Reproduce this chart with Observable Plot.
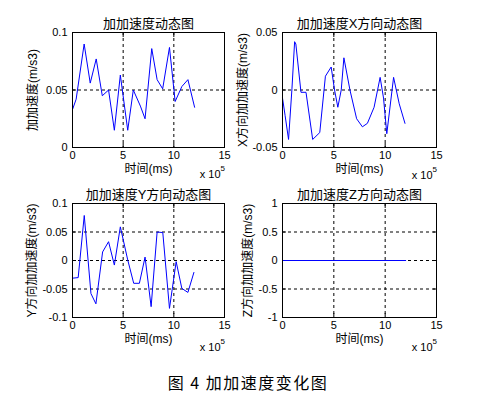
<!DOCTYPE html>
<html><head><meta charset="utf-8">
<script src="https://cdn.jsdelivr.net/npm/d3@7"></script>
<script src="https://cdn.jsdelivr.net/npm/@observablehq/plot@0.6"></script>
<style>
body{margin:0;background:#fff;}
#fig{position:relative;width:496px;height:398px;background:#fff;overflow:hidden;}
#fig svg{position:absolute;}
#cap{position:absolute;left:0;width:496px;top:370px;text-align:center;font-family:"Noto Sans CJK SC";font-size:16px;line-height:24px;letter-spacing:1.5px;color:#000;}
</style></head><body><div id="fig"><div id="cap">图 4 加加速度变化图</div></div>
<script>
// time axis in units of 1e5 ms
const xTicks = [0, 5, 10, 15];

const tJerk = [0, 0.36, 1.15, 1.75, 2.34, 2.94, 3.56, 4.13, 4.72, 5.45, 6.0, 6.7, 7.16, 7.82, 8.35, 8.9, 9.57, 10.13, 10.79, 11.39, 12.05];
const vJerk = [0.033, 0.042, 0.090, 0.056, 0.077, 0.045, 0.050, 0.015, 0.063, 0.015, 0.050, 0.036, 0.025, 0.086, 0.059, 0.051, 0.087, 0.040, 0.053, 0.059, 0.035];

const tX = [0, 0.25, 0.59, 0.92, 1.18, 1.3, 1.8, 2.29, 2.94, 3.63, 4.18, 4.74, 5.07, 5.39, 5.72, 5.98, 6.57, 7.22, 7.78, 8.27, 8.92, 9.51, 9.84, 10.16, 10.82, 11.37, 11.93];
const vX = [-0.007, -0.022, -0.043, 0.001, 0.042, 0.040, -0.002, -0.002, -0.043, -0.037, 0.012, 0.020, 0.000, -0.015, 0.000, 0.028, 0.000, -0.025, -0.032, -0.029, -0.015, 0.011, -0.007, -0.038, 0.011, -0.012, -0.029];

const tY = [0, 0.56, 1.16, 1.82, 2.31, 2.97, 3.56, 4.13, 4.72, 5.45, 6.04, 6.6, 7.16, 7.76, 8.35, 8.91, 9.57, 10.23, 10.79, 11.39, 11.98];
const vY = [-0.031, -0.030, 0.079, -0.058, -0.076, 0.015, 0.033, -0.008, 0.059, 0.001, -0.040, -0.040, 0.006, -0.081, 0.050, 0.049, -0.084, -0.002, -0.049, -0.056, -0.021];

const tZ = [0, 12];
const vZ = [0, 0];

const titles = ["加加速度动态图", "加加速度X方向动态图", "加加速度Y方向动态图", "加加速度Z方向动态图"];
const yLabels = ["加加速度(m/s3)", "X方向加加速度(m/s3)", "Y方向加加速度(m/s3)", "Z方向加加速度(m/s3)"];
const xLabel = "时间(ms)";
const yTicksJ = [0, 0.05, 0.1];
const yTicksX = [-0.05, 0, 0.05];
const yTicksY = [-0.1, -0.05, 0, 0.05, 0.1];
const yTicksZ = [-1, -0.5, 0, 0.5, 1];

const fmt = d => String(d);
const cjk = "'Liberation Sans','Noto Sans CJK SC',sans-serif";

function panel(o) {
  const data = o.t.map((t, i) => ({t, v: o.v[i]}));
  const yd = [o.yTicks[0], o.yTicks[o.yTicks.length - 1]];
  const svg = Plot.plot({
    width: o.w, height: o.h,
    marginLeft: o.ml, marginRight: o.mr, marginTop: o.mt, marginBottom: o.mb,
    style: {fontFamily: "'Liberation Sans',Arial,sans-serif", fontSize: "11px", background: "transparent", color: "black", overflow: "visible"},
    x: {domain: [0, 15]},
    y: {domain: yd},
    marks: [
      Plot.gridX(xTicks, {stroke: "black", strokeOpacity: 1, strokeDasharray: "3,3"}),
      Plot.gridY(o.yTicks, {stroke: "black", strokeOpacity: 1, strokeDasharray: "3,3"}),
      Plot.axisX(xTicks, {anchor: "bottom", tickSize: -4, tickPadding: 8, tickFormat: fmt, label: null}),
      Plot.axisX(xTicks, {anchor: "top", tickSize: -4, tickFormat: () => "", label: null}),
      Plot.axisY(o.yTicks, {anchor: "left", tickSize: -4, tickPadding: 9, tickFormat: fmt, label: null}),
      Plot.axisY(o.yTicks, {anchor: "right", tickSize: -4, tickFormat: () => "", label: null}),
      Plot.line(data, {x: "t", y: "v", stroke: "#0000ff", strokeWidth: 1}),
      Plot.frame({stroke: "black"}),
      Plot.text([o.title], {frameAnchor: "top", dy: -14, textAnchor: "middle", fontSize: 13, fontFamily: cjk}),
      Plot.text([xLabel], {frameAnchor: "bottom", dy: 25, textAnchor: "middle", fontSize: 12, fontFamily: cjk}),
      Plot.text([o.ylabel], {frameAnchor: "left", dx: o.ydx, rotate: -90, textAnchor: "middle", fontSize: 12, fontFamily: cjk}),
      Plot.text(["x 10"], {frameAnchor: "bottom-right", dx: -4, dy: o.edy, textAnchor: "end", fontSize: 11}),
      Plot.text(["5"], {frameAnchor: "bottom-right", dx: -4, dy: o.edy - 7, textAnchor: "start", fontSize: 8})
    ]
  });
  svg.style.left = o.left + "px";
  svg.style.top = o.top + "px";
  document.getElementById("fig").appendChild(svg);
}

panel({t: tJerk, v: vJerk, yTicks: yTicksJ, title: titles[0], ylabel: yLabels[0], left: 0, top: 0, w: 248, h: 185, ml: 72, mr: 24, mt: 32, mb: 38, ydx: -39, edy: 30});
panel({t: tX, v: vX, yTicks: yTicksX, title: titles[1], ylabel: yLabels[1], left: 220, top: 0, w: 276, h: 185, ml: 62, mr: 60, mt: 32, mb: 38, ydx: -39, edy: 31});
panel({t: tY, v: vY, yTicks: yTicksY, title: titles[2], ylabel: yLabels[2], left: 0, top: 185, w: 248, h: 170, ml: 72, mr: 24, mt: 18, mb: 38, ydx: -40, edy: 33});
panel({t: tZ, v: vZ, yTicks: yTicksZ, title: titles[3], ylabel: yLabels[3], left: 220, top: 185, w: 276, h: 170, ml: 62, mr: 60, mt: 18, mb: 38, ydx: -34, edy: 33});
</script></body></html>
